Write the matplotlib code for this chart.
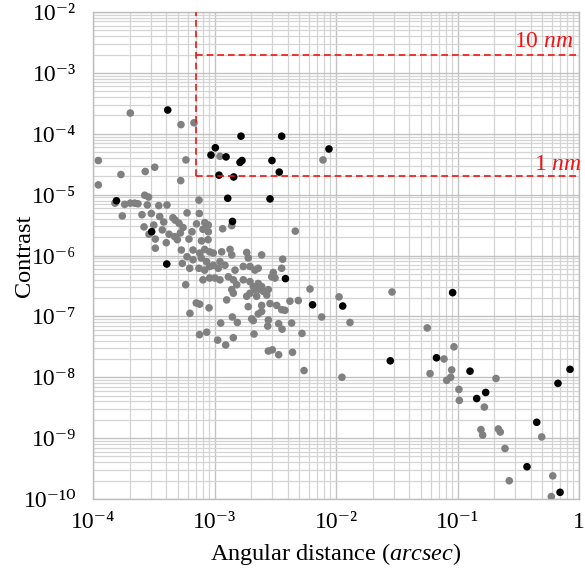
import numpy as np
import matplotlib
matplotlib.use("Agg")
import matplotlib.pyplot as plt
from matplotlib.ticker import FixedLocator, FixedFormatter, LogLocator, NullFormatter
import matplotlib.transforms as mtransforms

plt.rcParams["font.family"] = ["Liberation Serif", "DejaVu Serif"]
plt.rcParams["mathtext.fontset"] = "custom"
plt.rcParams["mathtext.rm"] = "Liberation Serif"
plt.rcParams["mathtext.it"] = "Liberation Serif:italic"

# --- datos (log10) ---
# puntos grises
gris_log_sep = [
    -3.693, -3.276, -3.169, -3.956, -3.235, -3.770, -3.570, -3.492, -3.278, -3.956,
    -2.955, -2.107, -3.574, -3.543, -3.128, -3.819, -3.739, -3.693, -3.657, -3.630,
    -3.553, -3.459, -3.391, -3.759, -3.597, -3.520, -3.451, -3.342, -3.323, -3.226,
    -3.125, -3.580, -3.500, -3.418, -3.430, -3.292, -3.259, -3.148, -3.080, -3.051,
    -3.539, -3.487, -3.374, -3.328, -3.281, -3.185, -3.095, -3.051, -3.397, -3.306,
    -3.210, -3.107, -3.053, -3.487, -3.273, -3.177, -3.122, -3.081, -3.040, -3.226,
    -3.177, -3.109, -3.066, -3.265, -3.204, -3.128, -3.081, -3.040, -3.095, -3.040,
    -3.237, -3.150, -3.122, -3.202, -3.045, -2.933, -2.858, -2.335, -3.010, -2.941,
    -2.872, -2.858, -2.735, -2.722, -2.612, -3.010, -2.955, -2.914, -2.969, -2.831,
    -2.763, -2.708, -2.667, -2.640, -2.439, -2.447, -2.516, -2.529, -2.502, -2.996,
    -2.955, -2.886, -2.845, -2.817, -2.763, -2.708, -2.681, -2.640, -2.612, -2.626,
    -2.858, -2.845, -2.735, -2.708, -2.667, -2.653, -2.598, -2.557, -2.570, -2.214,
    -2.900, -2.722, -2.612, -2.543, -2.488, -2.379, -2.310, -2.420, -2.447, -2.640,
    -2.612, -2.853, -2.812, -2.949, -2.694, -2.681, -2.557, -2.562, -2.472, -2.444,
    -2.365, -2.118, -3.123, -3.064, -2.974, -2.908, -2.845, -2.675, -2.280, -2.557,
    -2.524, -2.472, -2.358, -2.263, -1.975, -1.885, -1.539, -1.249, -1.951, -1.226,
    -1.029, -1.111, -1.048, -1.056, -1.089, -0.683, -0.988, -0.985, -0.779, -0.807,
    -0.793, -0.664, -0.648, -0.307, -0.609, -0.216, -0.574, -0.228,
]
gris_log_con = [
    -3.66, -3.85, -3.82, -4.44, -4.43, -4.67, -4.62, -4.55, -4.77, -4.84,
    -4.37, -4.43, -5.01, -5.04, -5.09, -5.14, -5.16, -5.14, -5.14, -5.15,
    -5.17, -5.18, -5.17, -5.35, -5.33, -5.31, -5.36, -5.38, -5.42, -5.30,
    -5.31, -5.53, -5.50, -5.45, -5.58, -5.47, -5.54, -5.48, -5.46, -5.50,
    -5.65, -5.73, -5.65, -5.69, -5.63, -5.61, -5.57, -5.61, -5.79, -5.74,
    -5.73, -5.76, -5.74, -5.88, -5.91, -5.91, -5.96, -5.90, -5.94, -6.02,
    -6.07, -6.04, -6.10, -6.13, -6.21, -6.21, -6.24, -6.18, -6.40, -6.37,
    -6.48, -6.78, -6.80, -6.95, -6.86, -5.56, -5.51, -5.60, -5.96, -5.94,
    -5.90, -5.99, -5.95, -6.04, -5.99, -6.16, -6.10, -6.16, -6.21, -6.24,
    -6.18, -6.18, -6.24, -6.21, -6.06, -6.21, -6.28, -6.35, -6.37, -6.37,
    -6.40, -6.35, -6.40, -6.48, -6.40, -6.43, -6.51, -6.46, -6.51, -6.56,
    -6.56, -6.62, -6.67, -6.62, -6.56, -6.67, -6.59, -6.56, -6.65, -6.55,
    -6.73, -6.84, -6.82, -6.79, -6.82, -6.75, -6.74, -6.90, -6.89, -6.96,
    -6.92, -7.01, -7.10, -7.11, -7.04, -7.07, -7.06, -7.16, -7.12, -7.21,
    -7.11, -7.01, -7.30, -7.26, -7.39, -7.47, -7.35, -7.29, -7.28, -7.57,
    -7.55, -7.63, -7.59, -7.89, -6.68, -7.10, -6.60, -7.19, -8.00, -7.94,
    -7.50, -7.70, -7.88, -8.00, -8.05, -8.02, -8.20, -8.38, -8.49, -8.86,
    -8.95, -8.85, -8.90, -8.98, -9.17, -9.62, -9.70, -9.96,
]
# puntos negros
negro_log_sep = [
    -3.385, -2.782, -2.447, -2.993, -3.029, -2.905, -2.790, -2.774, -2.527, -2.467,
    -2.963, -2.842, -3.807, -2.891, -2.543, -2.058, -2.852, -3.517, -3.393, -2.416,
    -2.193, -1.945, -1.553, -1.040, -1.173, -0.897, -0.074, -0.173, -0.768, -0.842,
    -0.348, -0.428, -0.156,
]
negro_log_con = [
    -3.61, -4.04, -4.04, -4.23, -4.35, -4.38, -4.47, -4.44, -4.44, -4.63,
    -4.68, -4.71, -5.10, -5.06, -5.07, -4.25, -5.44, -5.61, -6.14, -6.38,
    -6.81, -6.83, -7.73, -6.61, -7.68, -7.90, -7.87, -8.10, -8.25, -8.35,
    -8.74, -9.47, -9.89,
]

# limites de contraste (1 nm y 10 nm) y separacion minima
sep_min = 7e-4
con_1nm = 2e-5
con_10nm = 2e-3

x_ticks = [1e-4, 1e-3, 1e-2, 1e-1, 1.0]
x_labels = ["10⁻⁴", "10⁻³", "10⁻²", "10⁻¹", "1"]
y_ticks = [1e-10, 1e-9, 1e-8, 1e-7, 1e-6, 1e-5, 1e-4, 1e-3, 1e-2]
y_labels = ["10⁻¹⁰", "10⁻⁹", "10⁻⁸", "10⁻⁷", "10⁻⁶", "10⁻⁵", "10⁻⁴", "10⁻³", "10⁻²"]

ROJO = "#f01414"
GRIS = "#808080"

fig = plt.figure(figsize=(5.85, 5.70), dpi=100)
ax = fig.add_axes([93 / 585, 1 - 499 / 570, 486 / 585, 487 / 570])
ax.set_xscale("log")
ax.set_yscale("log")
ax.set_xlim(1e-4, 1.0)
ax.set_ylim(1e-10, 1e-2)

ax.grid(True, which="major", color="#c2c2c2", lw=1.0, zorder=0)
ax.grid(True, which="minor", color="#d4d4d4", lw=0.9, zorder=0)
ax.set_axisbelow(True)
ax.xaxis.set_minor_locator(LogLocator(base=10, subs=np.arange(2, 10), numticks=20))
ax.yaxis.set_minor_locator(LogLocator(base=10, subs=np.arange(2, 10), numticks=20))
ax.xaxis.set_minor_formatter(NullFormatter())
ax.yaxis.set_minor_formatter(NullFormatter())

ax.xaxis.set_major_locator(FixedLocator(x_ticks))
ax.xaxis.set_major_formatter(FixedFormatter(x_labels))
ax.yaxis.set_major_locator(FixedLocator(y_ticks))
ax.yaxis.set_major_formatter(FixedFormatter(y_labels))
ax.tick_params(which="both", length=0, labelsize=17)
ax.tick_params(axis="x", pad=9)
ax.tick_params(axis="y", pad=12)
for s in ax.spines.values():
    s.set_color("#bdbdbd")
    s.set_linewidth(1.0)

ax.scatter(10.0 ** np.array(gris_log_sep), 10.0 ** np.array(gris_log_con),
           s=30, color=GRIS, edgecolors="none", zorder=3)
ax.scatter(10.0 ** np.array(negro_log_sep), 10.0 ** np.array(negro_log_con),
           s=30, color="black", edgecolors="none", zorder=4)

# lineas rojas discontinuas
kw = dict(color=ROJO, lw=1.2, dashes=(4, 2.4), zorder=5)
ax.plot([sep_min, sep_min], [con_1nm, 1e-2], **kw)
ax.plot([sep_min, 1.0], [con_10nm, con_10nm], **kw)
ax.plot([sep_min, 1.0], [con_1nm, con_1nm], **kw)

trans = mtransforms.blended_transform_factory(ax.transAxes, ax.transData)
ax.annotate(r"10 $\mathit{nm}$", (0.988, con_10nm), xycoords=trans,
            xytext=(0, 5.5), textcoords="offset points",
            ha="right", va="baseline", color=ROJO, fontsize=17, zorder=6)
ax.annotate(r"1 $\mathit{nm}$", (1.006, con_1nm), xycoords=trans,
            xytext=(0, 4.5), textcoords="offset points",
            ha="right", va="baseline", color=ROJO, fontsize=17, zorder=6,
            annotation_clip=False)

ax.set_xlabel(r"Angular distance ($\mathit{arcsec}$)", fontsize=17.5)
ax.set_ylabel("Contrast", fontsize=17.5)
ax.xaxis.set_label_coords(0.5, -0.086)
ax.yaxis.set_label_coords(-0.12, 0.5)

fig.savefig("out.png", dpi=100)
